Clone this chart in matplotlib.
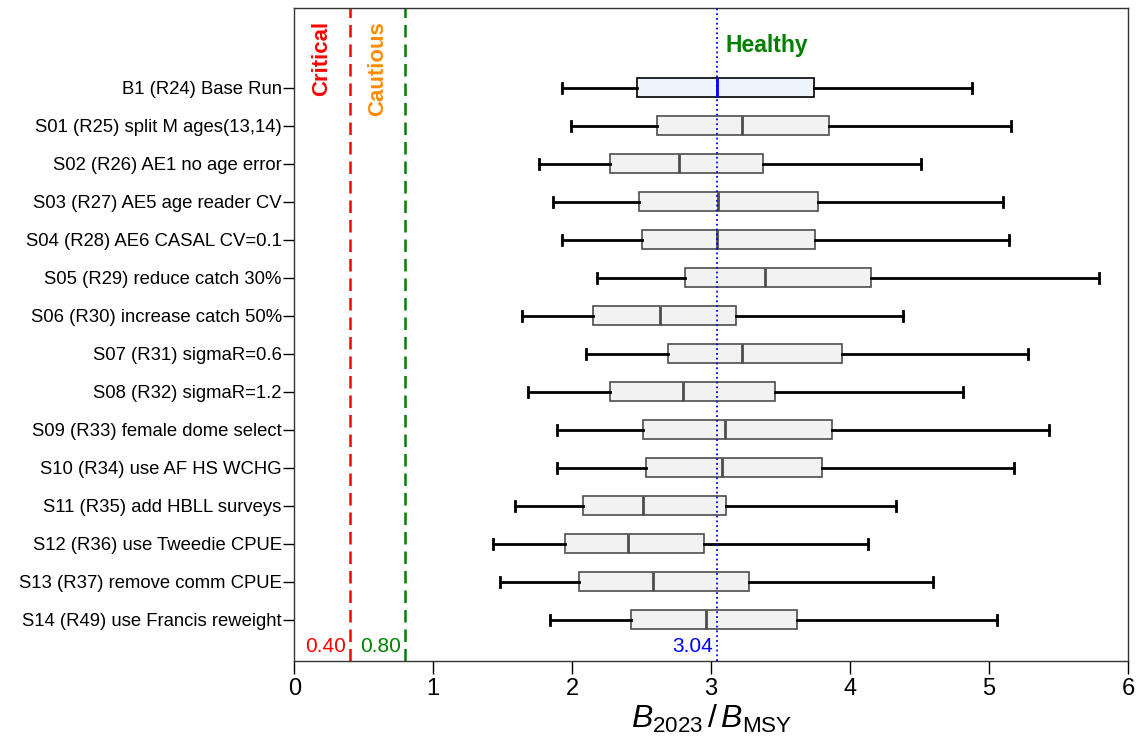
import numpy as np
import matplotlib
matplotlib.use("Agg")
import matplotlib.pyplot as plt

plt.rcParams['font.family'] = ['Liberation Sans', 'DejaVu Sans']
plt.rcParams['mathtext.fontset'] = 'custom'
plt.rcParams['mathtext.rm'] = 'Liberation Sans'
plt.rcParams['mathtext.it'] = 'Liberation Sans:italic'

# model runs, top to bottom
runs = ["B1 (R24) Base Run", "S01 (R25) split M ages(13,14)", "S02 (R26) AE1 no age error",
        "S03 (R27) AE5 age reader CV", "S04 (R28) AE6 CASAL CV=0.1", "S05 (R29) reduce catch 30%",
        "S06 (R30) increase catch 50%", "S07 (R31) sigmaR=0.6", "S08 (R32) sigmaR=1.2",
        "S09 (R33) female dome select", "S10 (R34) use AF HS WCHG", "S11 (R35) add HBLL surveys",
        "S12 (R36) use Tweedie CPUE", "S13 (R37) remove comm CPUE", "S14 (R49) use Francis reweight"]

# B2023/BMSY quantiles (whisker low, Q1, median, Q3, whisker high)
lo = [1.93, 1.99, 1.76, 1.86, 1.93, 2.18, 1.64, 2.10, 1.68, 1.89, 1.89, 1.59, 1.43, 1.48, 1.84]
q1 = [2.47, 2.61, 2.27, 2.48, 2.50, 2.81, 2.15, 2.69, 2.27, 2.51, 2.53, 2.08, 1.95, 2.05, 2.42]
med = [3.04, 3.22, 2.77, 3.05, 3.04, 3.39, 2.63, 3.22, 2.80, 3.10, 3.08, 2.51, 2.40, 2.58, 2.96]
q3 = [3.74, 3.85, 3.37, 3.77, 3.75, 4.15, 3.18, 3.94, 3.46, 3.87, 3.80, 3.11, 2.95, 3.27, 3.62]
hi = [4.88, 5.16, 4.51, 5.10, 5.14, 5.79, 4.38, 5.28, 4.81, 5.43, 5.18, 4.33, 4.13, 4.60, 5.06]

lrp = 0.4
usr = 0.8
base_med = 3.04

fig = plt.figure(figsize=(11.36, 7.48), dpi=100)
ax = fig.add_axes([0.259, 0.1163, 0.734, 0.873])

pos = np.arange(1, len(runs) + 1)

for i in range(len(runs)):
    st = [dict(whislo=lo[i], q1=q1[i], med=med[i], q3=q3[i], whishi=hi[i], fliers=[])]
    if i == 0:
        face, edge, mcol = '#eef5fd', 'black', 'blue'
    else:
        face, edge, mcol = '#f2f2f2', '#4d4d4d', '#4d4d4d'
    ax.bxp(st, positions=[pos[i]], vert=False, widths=0.5, patch_artist=True,
           showfliers=False, capwidths=0.26,
           boxprops=dict(facecolor=face, edgecolor=edge, linewidth=1.2),
           medianprops=dict(color=mcol, linewidth=2),
           whiskerprops=dict(color='black', linewidth=2),
           capprops=dict(color='black', linewidth=2), zorder=3)

ax.axvline(lrp, color='red', linestyle=(0, (5, 2.8)), linewidth=1.8, zorder=2)
ax.axvline(usr, color='green', linestyle=(0, (5, 2.8)), linewidth=1.8, zorder=2)
ax.axvline(base_med, color='blue', linestyle=':', linewidth=1.3, zorder=4)

ax.set_xlim(0, 6)
ax.set_ylim(16.08, -1.1)
ax.set_yticks(pos)
ax.set_yticklabels(runs, fontsize=13.3)
ax.set_xticks(range(0, 7))
ax.tick_params(axis='x', labelsize=17, length=9, width=1, pad=3)
ax.tick_params(axis='y', length=8, width=1, pad=1)
for s in ax.spines.values():
    s.set_color('#333333')
    s.set_linewidth(1)

ax.text(0.2, -0.75, "Critical", color='red', fontsize=16, fontweight='bold',
        rotation=90, ha='center', va='top')
ax.text(0.6, -0.75, "Cautious", color='darkorange', fontsize=16, fontweight='bold',
        rotation=90, ha='center', va='top')
ax.text(3.1, -0.12, "Healthy", color='green', fontsize=16.5, fontweight='bold',
        ha='left', va='center')

ax.text(lrp - 0.03, 15.7, f"{lrp:.2f}", color='red', fontsize=15, ha='right', va='center')
ax.text(usr - 0.03, 15.7, f"{usr:.2f}", color='green', fontsize=15, ha='right', va='center')
ax.text(base_med - 0.03, 15.7, f"{base_med:.2f}", color='blue', fontsize=15, ha='right', va='center')

ax.set_xlabel(r"$B_{2023}\,/\,B_{\mathrm{MSY}}$", fontsize=23, labelpad=2)

fig.savefig("out.png", dpi=100)
